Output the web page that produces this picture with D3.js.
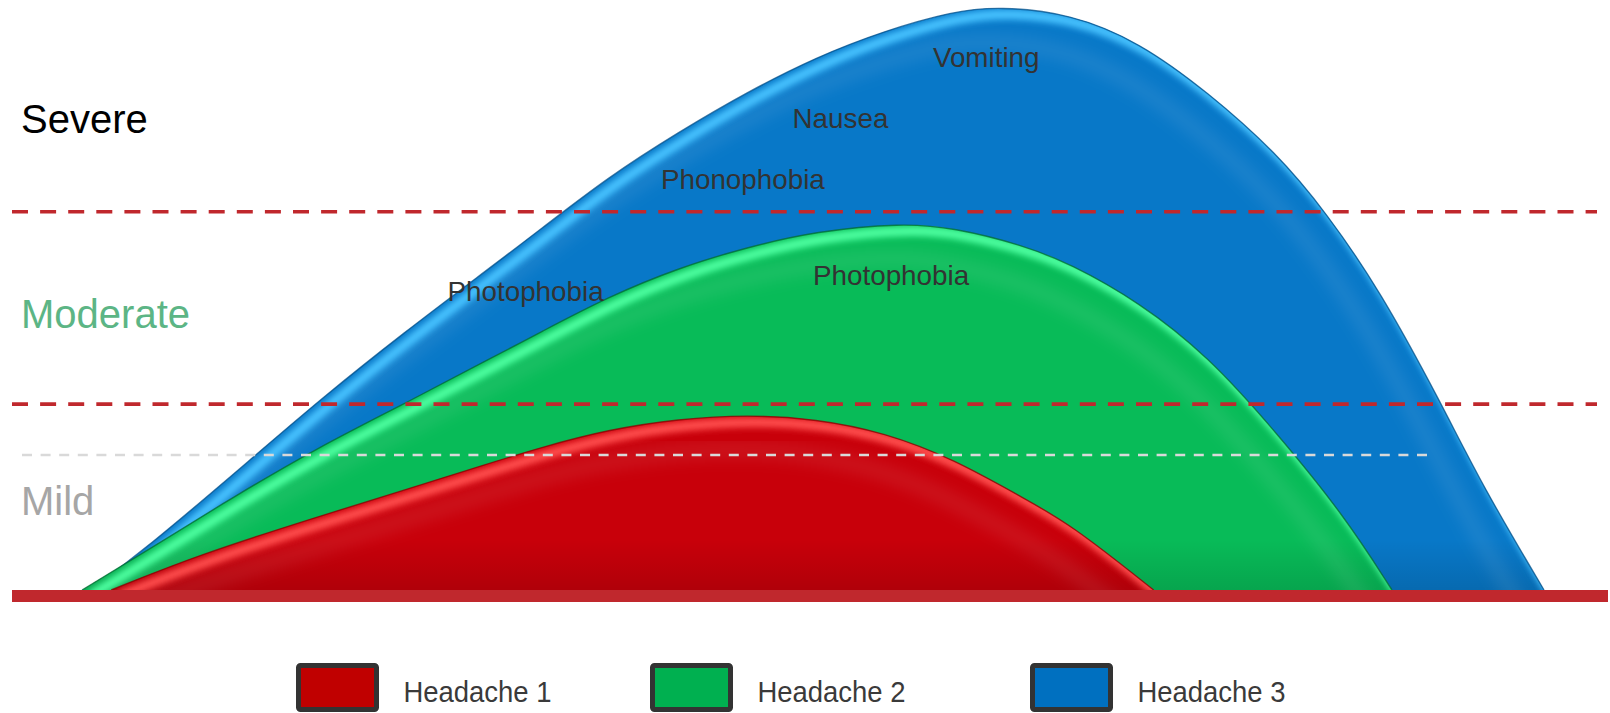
<!DOCTYPE html>
<html>
<head>
<meta charset="utf-8">
<script src="https://cdn.jsdelivr.net/npm/d3@7"></script>
<style>
  html, body { margin: 0; padding: 0; background: #ffffff; }
  svg { display: block; }
  text { font-family: "Liberation Sans", Arial, Helvetica, sans-serif; }
</style>
</head>
<body>
<svg id="chart" width="1610" height="713"></svg>
<script>
// ---- Data -------------------------------------------------------------
// Time since onset (0-100) and intensity (0-10) for each attack
const seriesNames = ["Headache 1", "Headache 2", "Headache 3"];

const headache1Time = [2.0, 7.9, 16.1, 22.0, 27.9, 31.3, 36.0, 40.8, 45.5, 50.2, 54.9, 59.6, 64.3, 67.6, 73.3];
const headache1Level = [0, 0.59, 1.24, 1.69, 2.15, 2.41, 2.72, 2.90, 2.97, 2.90, 2.67, 2.22, 1.57, 1.12, 0];

const headache2Time = [0, 4.4, 10.3, 16.1, 22.0, 27.9, 31.3, 36.0, 40.8, 45.5, 50.2, 56.1, 59.6, 64.3, 67.6, 72.3, 77.0, 81.7, 86.4, 89.6];
const headache2Level = [0, 0.66, 1.57, 2.41, 3.15, 3.92, 4.36, 4.97, 5.46, 5.81, 6.08, 6.22, 6.14, 5.85, 5.53, 4.88, 3.97, 2.67, 1.24, 0];

const headache3Time = [0.5, 4.2, 11.9, 16.4, 22.0, 27.9, 31.3, 36.0, 40.8, 45.5, 50.2, 54.9, 59.6, 62.7, 67.6, 72.3, 77.0, 81.7, 85.1, 88.8, 93.0, 95.8, 100];
const headache3Level = [0, 0.66, 2.29, 3.25, 4.36, 5.46, 6.10, 7.00, 7.76, 8.44, 9.03, 9.48, 9.81, 9.89, 9.77, 9.29, 8.44, 7.41, 6.40, 5.07, 3.15, 1.76, 0];

// Severity bands
const bandNames = ["Mild", "Moderate", "Severe"];
const bandLabelLevel = [1.27, 4.44, 7.75];
const mildGuideLevel = 2.29;
const bandThresholds = [3.15, 6.41];

// Symptoms noted during the attacks
const symptomNames = ["Photophobia", "Phonophobia", "Nausea", "Vomiting", "Photophobia"];
const symptomTime = [25.0, 39.6, 48.6, 58.2, 50.0];
const symptomLevel = [4.90, 6.79, 7.83, 8.87, 5.17];

// ---- Styles -----------------------------------------------------------
const fillColors = ["#c8000a", "#08bb58", "#0878c8"];
const glowColors = ["#ff4d4d", "#4dffa0", "#47c2ff"];
const edgeColors = ["#8a0000", "#066b33", "#064f8a"];
const legendColors = ["#c00000", "#00b050", "#0070c0"];
const bandColors = ["#a6a6a6", "#5cb585", "#000000"];

// ---- Scales -----------------------------------------------------------
const svg = d3.select("#chart");
const x = d3.scaleLinear().domain([0, 100]).range([82, 1544]);
const y = d3.scaleLinear().domain([0, 10]).range([590, 0]);

const series = [
  { name: seriesNames[0], pts: headache1Time.map((t, i) => ({ t, v: headache1Level[i] })) },
  { name: seriesNames[1], pts: headache2Time.map((t, i) => ({ t, v: headache2Level[i] })) },
  { name: seriesNames[2], pts: headache3Time.map((t, i) => ({ t, v: headache3Level[i] })) }
];

const area = d3.area()
  .x(d => x(d.t)).y0(y(0)).y1(d => y(d.v))
  .curve(d3.curveBasis);
const line = d3.line()
  .x(d => x(d.t)).y(d => y(d.v))
  .curve(d3.curveBasis);

// ---- Definitions ------------------------------------------------------
const defs = svg.append("defs");
defs.append("filter").attr("id", "soft").attr("x", "-5%").attr("y", "-5%").attr("width", "110%").attr("height", "110%")
  .append("feGaussianBlur").attr("stdDeviation", 3);
defs.append("filter").attr("id", "softWide").attr("x", "-5%").attr("y", "-5%").attr("width", "110%").attr("height", "110%")
  .append("feGaussianBlur").attr("stdDeviation", 7);
defs.append("filter").attr("id", "softEdge")
  .append("feGaussianBlur").attr("stdDeviation", 0.7);

const shade = defs.append("linearGradient").attr("id", "baseShade")
  .attr("gradientUnits", "userSpaceOnUse")
  .attr("x1", 0).attr("y1", y(0) - 50).attr("x2", 0).attr("y2", y(0));
shade.append("stop").attr("offset", 0).attr("stop-color", "#000").attr("stop-opacity", 0);
shade.append("stop").attr("offset", 1).attr("stop-color", "#000").attr("stop-opacity", 0.12);

series.forEach((s, i) => {
  defs.append("clipPath").attr("id", "clip" + i)
    .append("path").attr("d", area(s.pts));
});

// ---- Shapes (largest attack at the back) -------------------------------
const shapes = svg.append("g");
[2, 1, 0].forEach(i => {
  const s = series[i];
  const g = shapes.append("g");
  g.append("path").attr("d", area(s.pts)).attr("fill", fillColors[i]);

  const inner = g.append("g").attr("clip-path", `url(#clip${i})`);
  inner.append("rect")
    .attr("x", 0).attr("y", y(0) - 50).attr("width", 1610).attr("height", 52)
    .attr("fill", "url(#baseShade)");
  // faint inner sheen
  inner.append("path")
    .attr("d", line(s.pts))
    .attr("transform", "translate(-14,34)")
    .attr("fill", "none")
    .attr("stroke", "#ffffff")
    .attr("stroke-opacity", 0.07)
    .attr("stroke-width", 18)
    .attr("filter", "url(#softWide)");
  // bevel highlight lit from the upper left
  inner.append("path")
    .attr("d", line(s.pts))
    .attr("transform", "translate(8,6)")
    .attr("fill", "none")
    .attr("stroke", glowColors[i])
    .attr("stroke-width", 10)
    .attr("filter", "url(#soft)");

  g.append("path")
    .attr("d", line(s.pts))
    .attr("fill", "none")
    .attr("stroke", edgeColors[i])
    .attr("stroke-width", 1.4)
    .attr("stroke-opacity", 0.75)
    .attr("filter", "url(#softEdge)");
});

// ---- Band guides ------------------------------------------------------
svg.append("line")
  .attr("x1", 22).attr("x2", 1433)
  .attr("y1", y(mildGuideLevel)).attr("y2", y(mildGuideLevel))
  .attr("stroke", "#d9d9d9").attr("stroke-width", 2.5)
  .attr("stroke-dasharray", "10 8.6");

svg.selectAll("line.threshold").data(bandThresholds).join("line")
  .attr("class", "threshold")
  .attr("x1", 12).attr("x2", 1597)
  .attr("y1", d => y(d)).attr("y2", d => y(d))
  .attr("stroke", "#c0282d").attr("stroke-width", 3.6)
  .attr("stroke-dasharray", "16 12.1");

// Baseline bar
svg.append("rect")
  .attr("x", 12).attr("y", y(0)).attr("width", 1596).attr("height", 12)
  .attr("fill", "#c0282d");

// ---- Labels -----------------------------------------------------------
svg.selectAll("text.band").data(bandNames).join("text")
  .attr("class", "band")
  .attr("x", 21)
  .attr("y", (d, i) => y(bandLabelLevel[i]))
  .attr("font-size", 40)
  .attr("fill", (d, i) => bandColors[i])
  .text(d => d);

svg.selectAll("text.symptom").data(symptomNames).join("text")
  .attr("class", "symptom")
  .attr("x", (d, i) => x(symptomTime[i]))
  .attr("y", (d, i) => y(symptomLevel[i]))
  .attr("font-size", 27.8)
  .attr("fill", "#333333")
  .text(d => d);

// ---- Legend -----------------------------------------------------------
const legendX = [298.5, 652.5, 1032.5];
const legend = svg.append("g");
seriesNames.forEach((name, i) => {
  legend.append("rect")
    .attr("x", legendX[i]).attr("y", 665.5)
    .attr("width", 78).attr("height", 44)
    .attr("rx", 2)
    .attr("fill", legendColors[i])
    .attr("stroke", "#333333").attr("stroke-width", 5);
  legend.append("text")
    .attr("x", legendX[i] + 105).attr("y", 701.5)
    .attr("font-size", 30)
    .attr("textLength", 148).attr("lengthAdjust", "spacingAndGlyphs")
    .attr("fill", "#3a3a3a")
    .text(name);
});
</script>
</body>
</html>
